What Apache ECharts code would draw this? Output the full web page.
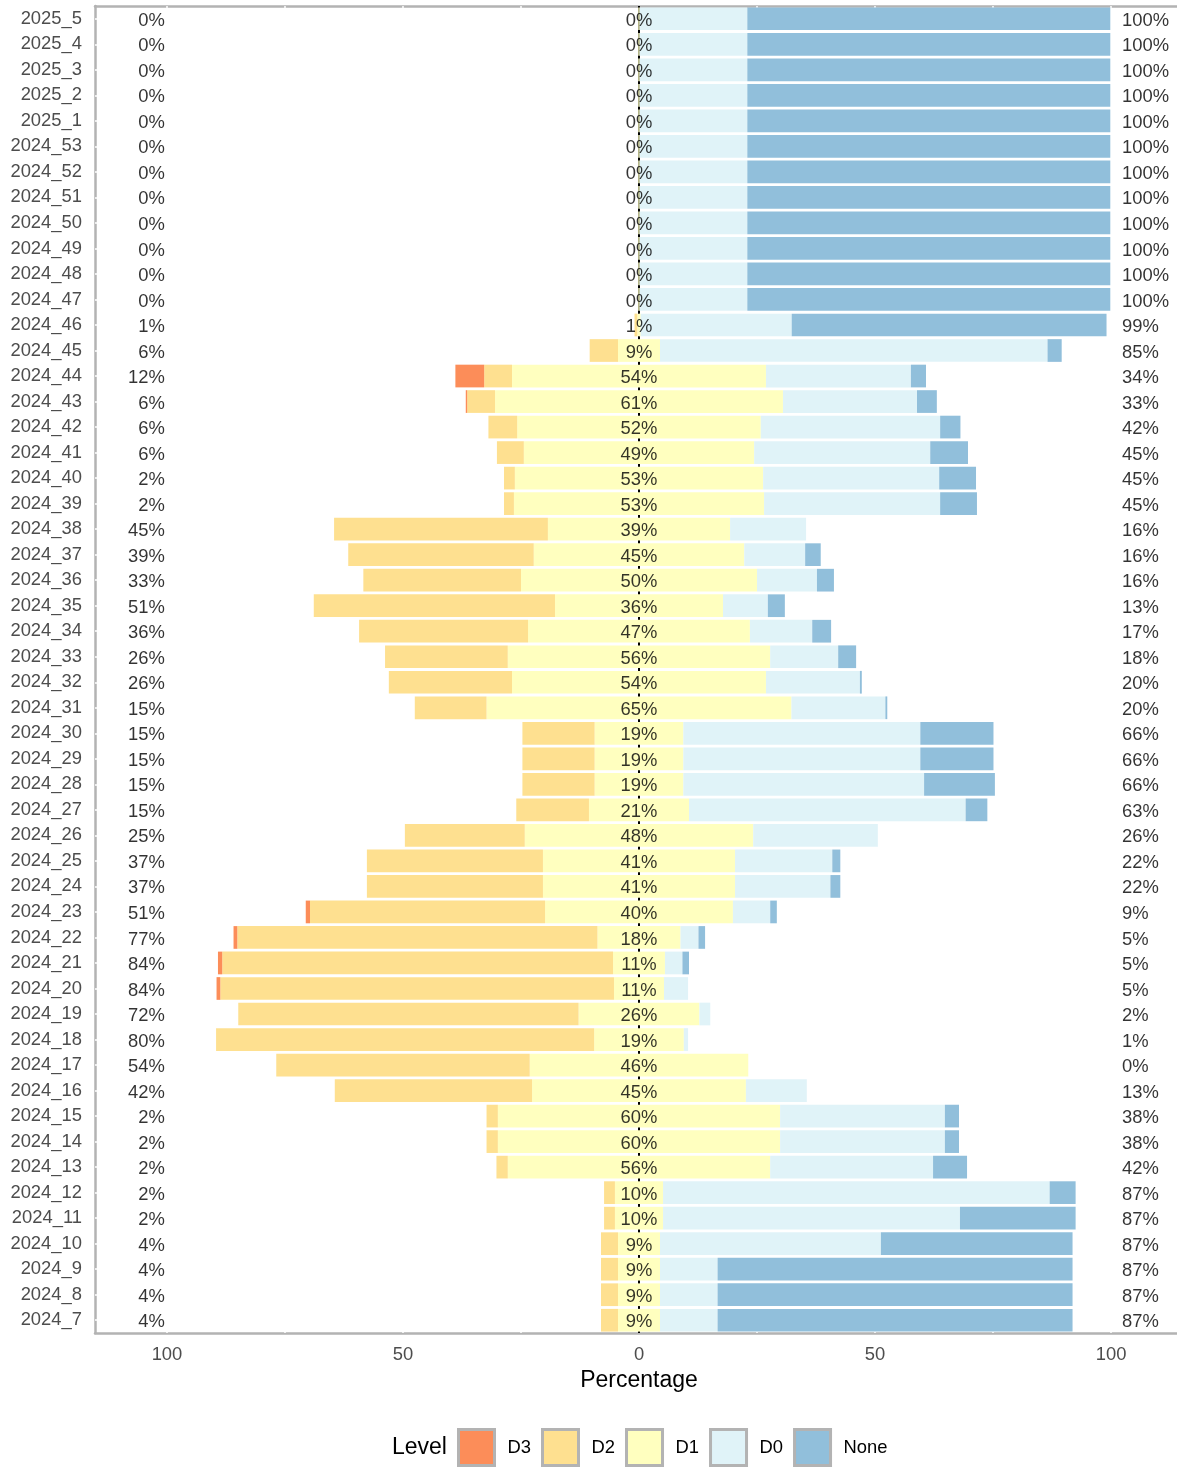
<!DOCTYPE html>
<html><head><meta charset="utf-8">
<script src="https://cdn.jsdelivr.net/npm/echarts@6/dist/echarts.min.js"></script>
<style>html,body{margin:0;padding:0;background:#fff}#c{width:1177px;height:1467px}</style>
</head><body><div id="c"></div>
<script>
// bottom to top
const categories = ['2024_7','2024_8','2024_9','2024_10','2024_11','2024_12','2024_13','2024_14','2024_15','2024_16',
 '2024_17','2024_18','2024_19','2024_20','2024_21','2024_22','2024_23','2024_24','2024_25','2024_26',
 '2024_27','2024_28','2024_29','2024_30','2024_31','2024_32','2024_33','2024_34','2024_35','2024_36',
 '2024_37','2024_38','2024_39','2024_40','2024_41','2024_42','2024_43','2024_44','2024_45','2024_46',
 '2024_47','2024_48','2024_49','2024_50','2024_51','2024_52','2024_53','2025_1','2025_2','2025_3','2025_4','2025_5'];
const D3 = [0,0,0,0,0,0,0,0,0,0, 0,0,0,0.8,0.9,0.8,0.9,0,0,0, 0,0,0,0,0,0,0,0,0,0, 0,0,0,0,0,0,0.3,6.1,0,0, 0,0,0,0,0,0,0,0,0,0,0,0];
const D2 = [3.6,3.6,3.6,3.6,2.3,2.3,2.4,2.4,2.4,41.8, 53.7,80.1,72.1,83.4,82.8,76.3,49.8,37.3,37.3,25.4,
 15.4,15.3,15.3,15.3,15.2,26.1,26.0,35.8,51.1,33.4, 39.3,45.3,2.1,2.3,5.7,6.1,5.9,5.9,6.0,0.6,
 0,0,0,0,0,0,0,0,0,0,0,0];
const D1 = [8.9,8.9,8.9,8.9,10.2,10.2,55.6,59.8,59.8,45.3, 46.3,19.0,25.6,10.6,11.0,17.6,39.8,40.7,40.7,48.4,
 21.2,18.8,18.8,18.8,64.6,53.8,55.6,47.0,35.6,50.0, 44.6,38.6,53.0,52.6,48.8,51.6,61.0,53.8,8.9,0.7,
 0.3,0.3,0.3,0.3,0.3,0.3,0.3,0.3,0.3,0.3,0.3,0.3];
const D0 = [12.2,12.2,12.2,46.8,62.9,81.9,34.5,34.9,34.9,12.9, 0,0.9,2.3,5.1,3.7,3.8,7.9,20.2,20.6,26.4,
 58.6,51.0,50.2,50.2,19.9,19.9,14.4,13.2,9.5,12.7, 12.9,16.1,37.3,37.3,37.3,38.0,28.4,30.7,82.1,32.0,
 22.8,22.8,22.8,22.8,22.8,22.8,22.8,22.8,22.8,22.8,22.8,22.8];
const NONE = [75.2,75.2,75.2,40.6,24.5,5.5,7.2,3.0,3.0,0, 0,0,0,0,1.4,1.4,1.4,2.1,1.7,0,
 4.6,15.0,15.5,15.5,0.4,0.4,3.8,4.0,3.6,3.6, 3.3,0,7.8,7.8,8.0,4.3,4.2,3.2,3.0,66.7,
 76.9,76.9,76.9,76.9,76.9,76.9,76.9,76.9,76.9,76.9,76.9,76.9];
const xTickValues = [-100,-50,0,50,100];
const gridValues = [-100,-75,-50,-25,25,50,75,100];
const levels = ['D3','D2','D1','D0','None'];
const colors = {D3:'#fc8d59', D2:'#fee090', D1:'#ffffbf', D0:'#e0f3f8', None:'#91bfdb'};

const FONT = '"Liberation Sans", Arial, Helvetica, sans-serif';
const FS = 18.4;
const XMIN = -115.25, XMAX = 113.98;
const low = categories.map((c,i)=>D3[i]+D2[i]);
const high = categories.map((c,i)=>D0[i]+NONE[i]);
const pct = v => Math.round(v) + '%';

const chart = echarts.init(document.getElementById('c'), null, {renderer:'canvas'});
const barBase = {type:'bar', stack:'s', barCategoryGap:'11%', z:2, silent:true};
const labelSeries = (xv, vals, pos, dist) => ({
  type:'scatter', z:6, silent:true, symbolSize:0.1, itemStyle:{color:'rgba(0,0,0,0)'},
  data: categories.map((c,i)=>[xv, c, vals[i]]),
  label:{show:true, position:pos, distance:dist, offset:[0,2], formatter:p=>pct(p.value[2]),
    color:'#000', fontSize:FS, fontFamily:FONT}
});
const border = {show:true, onZero:false, lineStyle:{color:'#b3b3b3', width:2.5}};

chart.setOption({
  animation:false,
  textStyle:{fontFamily:FONT},
  grid:{left:95, right:0, top:6, bottom:134, show:false},
  xAxis:[{type:'value', min:XMIN, max:XMAX,
    axisLine:border, axisTick:{show:false}, splitLine:{show:false},
    axisLabel:{customValues:xTickValues, formatter:v=>String(Math.abs(v)), color:'#4d4d4d', fontSize:FS, fontFamily:FONT, margin:13},
    name:'Percentage', nameLocation:'middle', nameGap:35,
    nameTextStyle:{color:'#000', fontSize:23, fontFamily:FONT, padding:[0,0,0,6]}},
   {type:'value', position:'top', min:XMIN, max:XMAX,
    axisLine:border, axisTick:{show:false}, splitLine:{show:false}, axisLabel:{show:false}}],
  yAxis:{type:'category', data:categories,
    axisLine:border, axisTick:{show:false}, splitLine:{show:false},
    axisLabel:{color:'#4d4d4d', fontSize:FS, fontFamily:FONT, margin:13, padding:[4,0,0,0]}},
  legend:{data:levels, left:457, top:1428, padding:0, orient:'horizontal', icon:'rect',
    itemWidth:36, itemHeight:36, itemGap:10,
    itemStyle:{borderColor:'#b3b3b3', borderWidth:3},
    textStyle:{color:'#000', fontSize:FS, fontFamily:FONT, padding:[0,0,0,8]},
    selectedMode:false},
  graphic:[{type:'text', left:392, top:1436, style:{text:'Level', fontSize:23, fontFamily:FONT, fill:'#000'}}],
  series:[
    {type:'line', z:1, silent:true, data:[],
      markLine:{silent:true, symbol:['none','none'], z:1, label:{show:false},
        data:[
          ...gridValues.map(v=>({xAxis:v, lineStyle:{color:'#ffffff', width:1.5, type:'solid'}})),
          ...categories.map(c=>({yAxis:c, lineStyle:{color:'#ffffff', width:1.5, type:'solid'}})),
          {xAxis:0, lineStyle:{color:'#000000', width:2, type:'solid'}}
        ]}},
    Object.assign({}, barBase, {name:'D1', itemStyle:{color:colors.D1}, data:D1.map(v=>-v/2)}),
    Object.assign({}, barBase, {name:'D1', itemStyle:{color:colors.D1}, data:D1.map(v=>v/2)}),
    Object.assign({}, barBase, {name:'D2', itemStyle:{color:colors.D2}, data:D2.map(v=>-v)}),
    Object.assign({}, barBase, {name:'D0', itemStyle:{color:colors.D0}, data:D0.slice()}),
    Object.assign({}, barBase, {name:'D3', itemStyle:{color:colors.D3}, data:D3.map(v=>-v)}),
    Object.assign({}, barBase, {name:'None', itemStyle:{color:colors.None}, data:NONE.slice()}),
    labelSeries(-100, low, 'left', 2),
    labelSeries(0, D1, 'inside', 0),
    labelSeries(100, high, 'right', 11)
  ]
});
</script></body></html>
